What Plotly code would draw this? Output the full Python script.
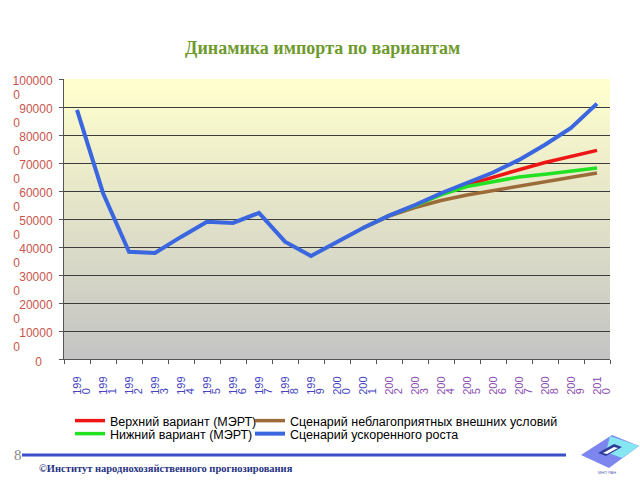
import plotly.graph_objects as go

# ---------------- data ----------------
years = list(range(1990, 2011))
# x tick labels are wrapped in two lines in the original: first three digits / last digit
x_tick_line1 = ["199", "199", "199", "199", "199", "199", "199", "199", "199", "199",
                "200", "200", "200", "200", "200", "200", "200", "200", "200", "200", "201"]
x_tick_line2 = ["0", "1", "2", "3", "4", "5", "6", "7", "8", "9",
                "0", "1", "2", "3", "4", "5", "6", "7", "8", "9", "0"]

forecast_years = list(range(2001, 2011))

accelerated = [890000, 593000, 383000, 379000, 436000, 490000, 486000, 522000, 419000, 368000,
               418000, 468000, 512000, 550000, 592000, 630000, 666000, 711000, 765000, 825000, 912000]
upper_mert = [468000, 512000, 549000, 590000, 622000, 650000, 676000, 702000, 723000, 745000]
lower_mert = [468000, 512000, 548000, 586000, 616000, 634000, 650000, 660000, 672000, 682000]
adverse = [468000, 510000, 541000, 566000, 586000, 602000, 616000, 634000, 650000, 664000]

y_tick_values = [0, 100000, 200000, 300000, 400000, 500000, 600000, 700000, 800000, 900000, 1000000]
# y tick labels wrapped in two lines in the original
y_tick_line1 = ["", "10000", "20000", "30000", "40000", "50000",
                "60000", "70000", "80000", "90000", "100000"]
y_tick_line2 = ["", "0", "0", "0", "0", "0", "0", "0", "0", "0", "0"]
y_zero_label = "0"

series_names = ["Верхний вариант (МЭРТ)", "Сценарий неблагоприятных внешних условий",
                "Нижний вариант (МЭРТ)", "Сценарий ускоренного роста"]

title_text = "Динамика импорта по вариантам"
footer_text = "©Институт народнохозяйственного прогнозирования"
page_number = "8"
logo_text = "МНП РАН"

# ---------------- figure ----------------
W, H = 640, 480
L, R, T, B = 64, 30, 79, 121
PW, PH = W - L - R, H - T - B


def px(X):
    return (X - L) / PW


def py(Y):
    return (H - B - Y) / PH


fig = go.Figure()
fig.add_trace(go.Scatter(x=forecast_years, y=upper_mert, name=series_names[0], mode="lines",
                         line=dict(color="#EE1515", width=3.5), legend="legend"))
fig.add_trace(go.Scatter(x=forecast_years, y=adverse, name=series_names[1], mode="lines",
                         line=dict(color="#9C6B3A", width=3.5), legend="legend2"))
fig.add_trace(go.Scatter(x=forecast_years, y=lower_mert, name=series_names[2], mode="lines",
                         line=dict(color="#22E022", width=3.5), legend="legend3"))
fig.add_trace(go.Scatter(x=years, y=accelerated, name=series_names[3], mode="lines",
                         line=dict(color="#3A66E0", width=4), legend="legend4"))
# empty helper traces so the extra label axes are drawn
fig.add_trace(go.Scatter(x=[], y=[], xaxis="x2", yaxis="y", showlegend=False, hoverinfo="skip"))
fig.add_trace(go.Scatter(x=[], y=[], xaxis="x", yaxis="y2", showlegend=False, hoverinfo="skip"))
fig.add_trace(go.Scatter(x=[], y=[], xaxis="x", yaxis="y3", showlegend=False, hoverinfo="skip"))

# gradient background of plot area
shapes = []
n = 60
top = (255, 255, 206)
bot = (196, 196, 196)
for i in range(n):
    f = (i + 0.5) / n
    c = tuple(int(round(top[k] + (bot[k] - top[k]) * f)) for k in range(3))
    shapes.append(dict(type="rect", xref="x domain", yref="y domain",
                       x0=0, x1=1, y0=1 - (i + 1) / n, y1=min(1, 1 - i / n + 0.002),
                       fillcolor="rgb(%d,%d,%d)" % c, line=dict(width=0), layer="below"))

# footer line
shapes.append(dict(type="line", xref="paper", yref="paper", x0=px(22), x1=px(566),
                   y0=py(455), y1=py(455), line=dict(color="#3A4FC8", width=3)))


def quad(pts, color):
    p = "M " + " L ".join("%f,%f" % (px(a), py(b)) for a, b in pts) + " Z"
    return dict(type="path", xref="paper", yref="paper", path=p, fillcolor=color, line=dict(width=0))


# logo
shapes.append(quad([(581, 455), (612, 435), (639, 446), (609, 468)], "#7C86EE"))
shapes.append(quad([(610, 436), (639, 446), (622, 458), (606, 452)], "#86E6F2"))
shapes.append(quad([(598, 453), (614, 444), (622, 447), (606, 456)], "#2E3C9A"))
shapes.append(quad([(603, 453), (614, 447), (618, 448), (607, 454)], "#FFFFFF"))

annotations = [
    dict(text="<b>" + title_text + "</b>", xref="paper", yref="paper", x=px(322), y=py(48),
         showarrow=False, xanchor="center", yanchor="middle",
         font=dict(family="Liberation Serif", size=18, color="#6E9A2E")),
    dict(text=page_number, xref="paper", yref="paper", x=px(18), y=py(455), showarrow=False,
         xanchor="center", yanchor="middle",
         font=dict(family="Liberation Serif", size=15, color="#8A8A8A")),
    dict(text="<b>" + footer_text + "</b>", xref="paper", yref="paper", x=px(37), y=py(468),
         showarrow=False, xanchor="left", yanchor="middle",
         font=dict(family="Liberation Serif", size=10.5, color="#26337F")),
    dict(text=logo_text, xref="paper", yref="paper", x=px(607), y=py(472), showarrow=False,
         xanchor="center", yanchor="middle",
         font=dict(family="Liberation Sans", size=4, color="#5A6AB0")),
]

legend_font = dict(family="Liberation Sans", size=12.5, color="black")


def leg(X, Y):
    return dict(orientation="h", x=px(X), y=py(Y), xanchor="left", yanchor="top", itemwidth=30,
                font=legend_font, bgcolor="rgba(0,0,0,0)")


fig.update_layout(
    width=W, height=H,
    margin=dict(l=L, r=R, t=T, b=B, pad=0),
    paper_bgcolor="white", plot_bgcolor="white",
    font=dict(family="Liberation Sans", size=11, color="black"),
    showlegend=True,
    legend=leg(70, 406),
    legend2=leg(250, 406),
    legend3=leg(70, 419),
    legend4=leg(250, 419),
    shapes=shapes,
    annotations=annotations,
)

blue_lab = "#4444C2"
purple_lab = "#8A4EB2"
x_line1_colored = ["<span style='color:%s'>%s</span>" % (blue_lab if y < 2002 else purple_lab, t)
                   for y, t in zip(years, x_tick_line1)]
x_line2_colored = ["<span style='color:%s'>%s</span>" % (blue_lab if y < 2002 else purple_lab, t)
                   for y, t in zip(years, x_tick_line2)]

fig.update_layout(
    xaxis=dict(range=[1989.5, 2010.5], tickmode="array", tickvals=years, ticktext=x_line1_colored,
               tickangle=-90, ticks="", showgrid=False, zeroline=False,
               showline=True, linecolor="#555555", linewidth=1, ticklabelstandoff=12,
               tickfont=dict(family="Liberation Sans", size=11, color=blue_lab),
               minor=dict(tickmode="array", tickvals=[y - 0.5 for y in years] + [2010.5],
                          ticks="outside", ticklen=4, tickcolor="#555555", showgrid=False)),
    xaxis2=dict(range=[1989.5, 2010.5], overlaying="x", anchor="y", side="bottom",
                tickmode="array", tickvals=years, ticktext=x_line2_colored,
                tickangle=-90, ticks="", showgrid=False, zeroline=False, showline=False,
                ticklabelstandoff=26, ticklabelshift=9,
                tickfont=dict(family="Liberation Sans", size=11, color=blue_lab)),
    yaxis=dict(range=[0, 1000000], tickmode="array", tickvals=y_tick_values, ticktext=y_tick_line1,
               ticks="outside", ticklen=4, tickcolor="#555555", ticklabelstandoff=4, ticklabelshift=2,
               showgrid=True, gridcolor="#3C3C3C", gridwidth=1, zeroline=False,
               showline=True, linecolor="#555555", linewidth=1,
               tickfont=dict(family="Liberation Sans", size=12, color="#C8554B")),
    yaxis2=dict(range=[0, 1000000], overlaying="y", anchor="x", side="left",
                tickmode="array", tickvals=y_tick_values, ticktext=y_tick_line2,
                ticks="", showgrid=False, zeroline=False, showline=False,
                ticklabelstandoff=43, ticklabelshift=16,
                tickfont=dict(family="Liberation Sans", size=12, color="#C8554B")),
    yaxis3=dict(range=[0, 1000000], overlaying="y", anchor="x", side="left",
                tickmode="array", tickvals=[0], ticktext=[y_zero_label],
                ticks="", showgrid=False, zeroline=False, showline=False,
                ticklabelstandoff=21, ticklabelshift=3,
                tickfont=dict(family="Liberation Sans", size=12, color="#C8554B")),
)

fig.write_html("out.html", config={"displayModeBar": False},
               post_script="document.body.style.margin='0px';")
